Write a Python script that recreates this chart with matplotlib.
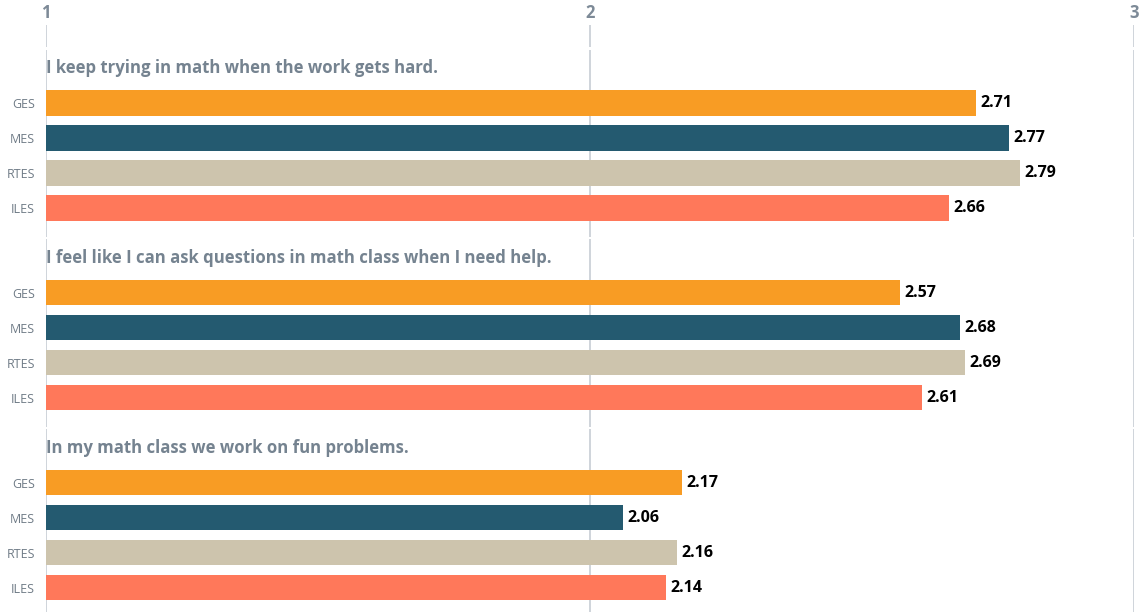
import matplotlib
matplotlib.use('Agg')
import matplotlib.pyplot as plt

plt.rcParams['font.family'] = ['Open Sans', 'DejaVu Sans']

questions = ['I keep trying in math when the work gets hard.',
             'I feel like I can ask questions in math class when I need help.',
             'In my math class we work on fun problems.']
schools = ['GES', 'MES', 'RTES', 'ILES']
colors = ['#f89c24', '#245a70', '#cdc4ad', '#ff785a']
values = [[2.71, 2.77, 2.79, 2.66],
          [2.57, 2.68, 2.69, 2.61],
          [2.17, 2.06, 2.16, 2.14]]
ticks = [1, 2, 3]

W, H = 1143, 612
fig = plt.figure(figsize=(W / 100, H / 100), dpi=100)
left = 46 / W
width = (1134 - 46) / W
grid_c = '#cfd4db'
gray = '#6f7b86'


def rect(top, bottom):
    return [left, 1 - bottom / H, width, (bottom - top) / H]


# header strip carrying the top tick labels
hdr = fig.add_axes(rect(25, 47))
hdr.set_xlim(1, 3)
hdr.set_ylim(0, 1)
hdr.set_xticks(ticks)
hdr.xaxis.tick_top()
hdr.tick_params(axis='x', length=0, pad=2, labelsize=12, labelcolor='#7d8a97')
for lab in hdr.get_xticklabels():
    lab.set_fontweight('bold')
hdr.set_yticks([])
hdr.grid(axis='x', color=grid_c, linewidth=1.4)
for s in hdr.spines.values():
    s.set_visible(False)

panels = [(49.5, 237), (239, 427), (429, 612)]
for (top, bottom), q, vals in zip(panels, questions, values):
    ax = fig.add_axes(rect(top, bottom))
    ax.set_xlim(1, 3)
    pos = [1, 2, 3, 4]
    ax.set_ylim(-0.53 + (bottom - top) / 35, -0.53)
    ax.barh(pos, [v - 1 for v in vals], left=1, height=0.73, color=colors, zorder=2)
    for p, v in zip(pos, vals):
        ax.text(v + 0.008, p, f'{v:.2f}', va='center', ha='left', fontsize=11.5,
                fontweight='bold', color='black')
    ax.text(1.0, 0, q, va='center', ha='left', fontsize=12.1, fontweight='bold', color='#758390')
    ax.set_yticks(pos)
    ax.set_yticklabels(schools)
    ax.tick_params(axis='y', length=0, pad=8, labelsize=9, labelcolor=gray)
    ax.set_xticks(ticks)
    ax.tick_params(axis='x', length=0, labelbottom=False)
    ax.grid(axis='x', color=grid_c, linewidth=1.4, zorder=0)
    ax.set_axisbelow(True)
    for s in ax.spines.values():
        s.set_visible(False)

fig.savefig('out.png', dpi=100)
